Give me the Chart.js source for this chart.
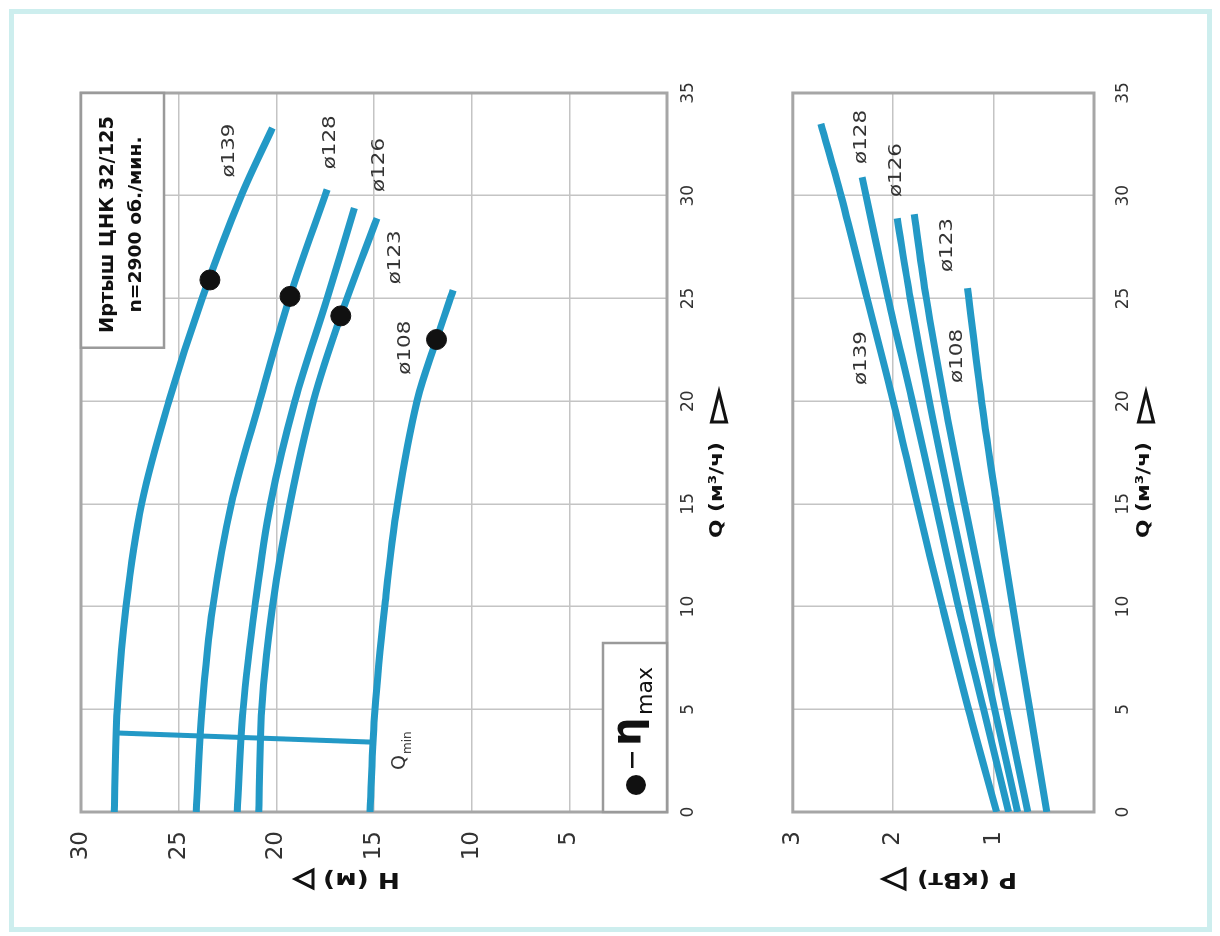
<!DOCTYPE html>
<html lang="ru">
<head>
<meta charset="UTF-8">
<title>Иртыш ЦНК 32/125</title>
<script src="https://cdn.jsdelivr.net/npm/chart.js"></script>
<style>
  body { margin: 0; background: #fff; }
  #page { position: relative; width: 1220px; height: 936px; overflow: hidden; background: #fff; }
  #frame { position: absolute; left: 9px; top: 9px; width: 1203px; height: 923px; border: 5px solid #cdeeee; box-sizing: border-box; }
  /* the sheet is drawn upright and then turned a quarter left, like the scan */
  #sheet { position: absolute; left: 0; top: 0; width: 936px; height: 1220px; transform-origin: 0 0; transform: translateY(936px) rotate(-90deg); }
  #sheet canvas { position: absolute; left: 0; }
</style>
</head>
<body>
<div id="page">
  <div id="frame"></div>
  <div id="sheet">
    <canvas id="headChart" width="936" height="760" style="top:0"></canvas>
    <canvas id="powerChart" width="936" height="460" style="top:760px"></canvas>
  </div>
</div>
<script>
// H(Q) curves
const headQ139 = [0, 5, 10, 15, 20, 25, 30, 33.3];
const headH139 = [28.3, 28.15, 27.7, 26.9, 25.5, 23.8, 21.8, 20.2];
const headQ128 = [0, 5, 10, 15, 20, 25.1, 30.3];
const headH128 = [24.1, 23.8, 23.25, 22.3, 20.85, 19.3, 17.4];
const headQ126 = [0, 5, 10, 15, 20, 25, 29.4];
const headH126 = [22.0, 21.7, 21.1, 20.3, 19.05, 17.4, 16.0];
const headQ123 = [0, 5, 10, 15, 20, 24.15, 28.9];
const headH123 = [20.9, 20.75, 20.2, 19.3, 18.1, 16.7, 14.85];
const headQ108 = [0, 5, 10, 15, 20, 23, 25.4];
const headH108 = [15.2, 14.95, 14.45, 13.8, 12.8, 11.8, 10.95];

// best efficiency points
const etaQ = [25.9, 25.1, 24.15, 23.0];
const etaH = [23.4, 19.3, 16.7, 11.8];

// Q min line
const qminQ = [3.85, 3.4];
const qminH = [28.25, 15.05];

// P(Q) curves
const powQ139 = [0, 5, 10, 15, 20, 25, 30, 33.5];
const powP139 = [0.97, 1.25, 1.51, 1.76, 2.0, 2.26, 2.52, 2.72];
const powQ128 = [0, 5, 10, 15, 20, 25, 30.9];
const powP128 = [0.85, 1.1, 1.35, 1.58, 1.81, 2.05, 2.31];
const powQ126 = [0, 5, 10, 15, 20, 25, 28.9];
const powP126 = [0.76, 0.99, 1.21, 1.43, 1.64, 1.83, 1.96];
const powQ123 = [0, 5, 10, 15, 20, 25, 29.1];
const powP123 = [0.66, 0.87, 1.08, 1.29, 1.49, 1.67, 1.79];
const powQ108 = [0, 5, 10, 15, 20, 25.5];
const powP108 = [0.47, 0.64, 0.81, 0.97, 1.12, 1.26];

// curve labels
const diameters = ['ø139', 'ø128', 'ø126', 'ø123', 'ø108'];
const headLabelQ = [32.2, 32.6, 31.5, 27.0, 22.6];
const headLabelH = [22.4, 17.25, 14.75, 13.9, 13.4];
const powLabelQ = [22.1, 32.86, 31.25, 27.6, 22.2];
const powLabelP = [2.32, 2.32, 1.97, 1.46, 1.36];

const titleLines = ['Иртыш ЦНК 32/125', 'n=2900 об./мин.'];

const BLUE = '#2399c6';
const INK = '#333';
const SANS = '"DejaVu Sans", sans-serif';

function pts(xs, ys) {
  return xs.map((x, i) => ({ x: x, y: ys[i] }));
}

function curve(xs, ys) {
  return {
    data: pts(xs, ys),
    borderColor: BLUE,
    borderWidth: 7,
    pointRadius: 0,
    fill: false,
    tension: 0.35,
    borderCapStyle: 'butt',
    order: 2
  };
}

// text squeezed or stretched to the width it has on the scan
function fitText(ctx, str, x, y, font, width, align) {
  ctx.save();
  ctx.font = font;
  ctx.textBaseline = 'middle';
  ctx.textAlign = 'left';
  const w = ctx.measureText(str).width;
  const sx = width ? width / w : 1;
  const left = align === 'center' ? x - w * sx / 2 : x;
  ctx.translate(left, y);
  ctx.scale(sx, 1);
  ctx.fillText(str, 0, 0);
  ctx.restore();
}

function triangle(ctx, x, y, len, half, angle) {
  ctx.save();
  ctx.translate(x, y);
  ctx.rotate(angle);
  ctx.beginPath();
  ctx.moveTo(0, -half);
  ctx.lineTo(len, 0);
  ctx.lineTo(0, half);
  ctx.closePath();
  ctx.lineWidth = 3;
  ctx.lineJoin = 'miter';
  ctx.strokeStyle = '#111';
  ctx.stroke();
  ctx.restore();
}

function plotBorder(chart) {
  const a = chart.chartArea;
  const ctx = chart.ctx;
  ctx.save();
  ctx.strokeStyle = '#a6a6a6';
  ctx.lineWidth = 3;
  ctx.strokeRect(a.left, a.top, a.right - a.left, a.bottom - a.top);
  ctx.restore();
}

function box(ctx, x1, y1, x2, y2) {
  ctx.save();
  ctx.fillStyle = '#fff';
  ctx.fillRect(x1, y1, x2 - x1, y2 - y1);
  ctx.strokeStyle = '#9a9a9a';
  ctx.lineWidth = 2.5;
  ctx.strokeRect(x1, y1, x2 - x1, y2 - y1);
  ctx.restore();
}

function qTitle(ctx, a, dy) {
  ctx.fillStyle = '#111';
  fitText(ctx, 'Q (м³/ч)', a.left + 274, a.bottom + dy, 'bold 18px ' + SANS, 96, 'left');
  triangle(ctx, a.left + 390, a.bottom + dy + 2, 30, 7.5, 0);
}

function scales(yMax, xHeight, xPad) {
  return {
    x: {
      type: 'linear', min: 0, max: 35,
      ticks: { stepSize: 5, color: INK, font: { family: SANS, size: 17 }, padding: xPad },
      grid: { color: '#c4c4c4', lineWidth: 1.5, drawTicks: false },
      border: { display: false },
      afterFit: s => { s.height = xHeight; }
    },
    y: {
      type: 'linear', min: 0, max: yMax,
      ticks: {
        stepSize: yMax === 30 ? 5 : 1, color: INK, font: { family: SANS, size: 23 }, padding: 19,
        callback: v => (v === 0 ? '' : v)
      },
      grid: { color: '#c4c4c4', lineWidth: 1.5, drawTicks: false },
      border: { display: false },
      afterFit: s => { s.width = 124; }
    }
  };
}

const headNotes = {
  id: 'headNotes',
  beforeDatasetsDraw(chart) {
    const ctx = chart.ctx, a = chart.chartArea;
    const x = chart.scales.x, y = chart.scales.y;
    plotBorder(chart);
    // name plate
    box(ctx, x.getPixelForValue(22.6), a.top, a.right, y.getPixelForValue(25.75));
    // legend
    box(ctx, a.left, a.bottom - 64, a.left + 169, a.bottom);
  },
  afterDatasetsDraw(chart) {
    const ctx = chart.ctx, a = chart.chartArea;
    const x = chart.scales.x, y = chart.scales.y;
    ctx.save();
    ctx.fillStyle = '#111';
    const cx = x.getPixelForValue(28.6);
    fitText(ctx, titleLines[0], cx, y.getPixelForValue(28.62), 'bold 19px ' + SANS, 217, 'center');
    fitText(ctx, titleLines[1], cx, y.getPixelForValue(27.14), 'bold 17px ' + SANS, 176, 'center');

    ctx.fillStyle = INK;
    diameters.forEach((d, i) => {
      fitText(ctx, d, x.getPixelForValue(headLabelQ[i]), y.getPixelForValue(headLabelH[i]), '18px ' + SANS, 54, 'center');
    });

    // Q min
    ctx.font = '19px ' + SANS;
    ctx.textBaseline = 'alphabetic';
    ctx.textAlign = 'left';
    ctx.fillText('Q', a.left + 42, a.bottom - 262);
    ctx.font = '12px ' + SANS;
    ctx.fillText('min', a.left + 58, a.bottom - 256);

    // legend contents
    ctx.fillStyle = '#111';
    ctx.beginPath();
    ctx.arc(a.left + 27, a.bottom - 31, 10, 0, Math.PI * 2);
    ctx.fill();
    ctx.fillRect(a.left + 44, a.bottom - 36, 16, 2.5);
    ctx.font = 'bold 40px ' + SANS;
    ctx.fillText('η', a.left + 66, a.bottom - 27);
    ctx.font = '22px ' + SANS;
    ctx.fillText('max', a.left + 97, a.bottom - 15);

    // axis titles
    qTitle(ctx, a, 50);
    ctx.save();
    ctx.translate(a.left - 67, 400);
    ctx.rotate(-Math.PI / 2);
    fitText(ctx, 'H (м)', 0, 0, 'bold 22px ' + SANS, 77, 'left');
    ctx.restore();
    triangle(ctx, a.left - 67, 313, 18, 9, -Math.PI / 2);
    ctx.restore();
  }
};

const powerNotes = {
  id: 'powerNotes',
  beforeDatasetsDraw(chart) {
    plotBorder(chart);
  },
  afterDatasetsDraw(chart) {
    const ctx = chart.ctx, a = chart.chartArea;
    const x = chart.scales.x, y = chart.scales.y;
    ctx.save();
    ctx.fillStyle = INK;
    diameters.forEach((d, i) => {
      fitText(ctx, d, x.getPixelForValue(powLabelQ[i]), y.getPixelForValue(powLabelP[i]), '18px ' + SANS, 54, 'center');
    });
    ctx.fillStyle = '#111';
    qTitle(ctx, a, 50);
    ctx.save();
    ctx.translate(a.left - 67, 1017 - 760);
    ctx.rotate(-Math.PI / 2);
    fitText(ctx, 'P (кВт)', 0, 0, 'bold 22px ' + SANS, 100, 'left');
    ctx.restore();
    triangle(ctx, a.left - 67, 905 - 760, 22, 10, -Math.PI / 2);
    ctx.restore();
  }
};

const common = {
  responsive: false,
  animation: false,
  plugins: { legend: { display: false }, tooltip: { enabled: false } }
};

new Chart(document.getElementById('headChart'), {
  type: 'line',
  data: {
    datasets: [
      {
        data: pts(etaQ, etaH), showLine: false, pointRadius: 10,
        pointBackgroundColor: '#111', pointBorderColor: '#111', order: 0
      },
      curve(headQ139, headH139),
      curve(headQ128, headH128),
      curve(headQ126, headH126),
      curve(headQ123, headH123),
      curve(headQ108, headH108),
      Object.assign(curve(qminQ, qminH), { borderWidth: 5, tension: 0 })
    ]
  },
  options: Object.assign({}, common, {
    layout: { padding: { left: 0, right: 93, top: 81, bottom: 0 } },
    scales: scales(30, 93, 11)
  }),
  plugins: [headNotes]
});

new Chart(document.getElementById('powerChart'), {
  type: 'line',
  data: {
    datasets: [
      curve(powQ139, powP139),
      curve(powQ128, powP128),
      curve(powQ126, powP126),
      curve(powQ123, powP123),
      curve(powQ108, powP108)
    ]
  },
  options: Object.assign({}, common, {
    layout: { padding: { left: 0, right: 93, top: 21, bottom: 0 } },
    scales: scales(3, 126, 19)
  }),
  plugins: [powerNotes]
});
</script>
</body>
</html>
